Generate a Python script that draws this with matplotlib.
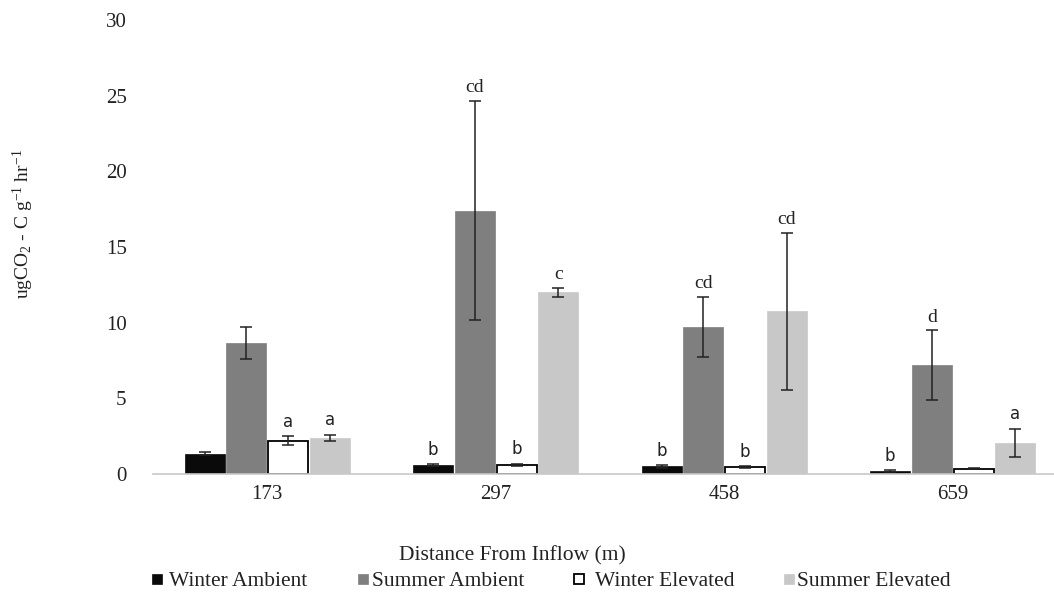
import matplotlib
matplotlib.use("Agg")
from matplotlib import pyplot as plt
from matplotlib.lines import Line2D
import numpy as np

plt.rcParams['font.family'] = ['Liberation Serif', 'DejaVu Serif']
plt.rcParams['mathtext.fontset'] = 'custom'
plt.rcParams['mathtext.rm'] = 'Liberation Serif'
plt.rcParams['mathtext.it'] = 'Liberation Serif:italic'

# data
distances = ["173", "297", "458", "659"]
series = ["Winter Ambient", "Summer Ambient", "Winter Elevated", "Summer Elevated"]
winter_ambient = [1.35, 0.6, 0.5, 0.2]
summer_ambient = [8.65, 17.4, 9.7, 7.2]
winter_elevated = [2.2, 0.6, 0.45, 0.35]
summer_elevated = [2.4, 12.0, 10.75, 2.05]
err_wa = [0.1, 0.05, 0.1, 0.05]
err_sa = [1.05, 7.25, 2.0, 2.3]
err_we = [0.3, 0.08, 0.08, 0.05]
err_se = [0.2, 0.3, 5.2, 0.95]
letters_wa = ["", "b", "b", "b"]
letters_sa = ["", "cd", "cd", "d"]
letters_we = ["a", "b", "b", ""]
letters_se = ["a", "c", "cd", "a"]

values = [winter_ambient, summer_ambient, winter_elevated, summer_elevated]
errors = [err_wa, err_sa, err_we, err_se]
letters = [letters_wa, letters_sa, letters_we, letters_se]
facecolors = ["#0a0a0a", "#7f7f7f", "#ffffff", "#c8c8c8"]
edgecolors = ["#0a0a0a", "#7f7f7f", "#000000", "#c8c8c8"]
txtcol = "#222222"

fig = plt.figure(figsize=(10.54, 5.95), dpi=100)
ax = fig.add_axes([153/1054, 1 - 474/595, 1 - 153/1054, (474 - 20)/595])

x = np.arange(len(distances))
w = 0.175
step = 0.183
for i in range(4):
    pos = x + (i - 1.5) * step
    ax.bar(pos, values[i], width=w, color=facecolors[i], edgecolor=edgecolors[i],
           linewidth=1.3 if i == 2 else 0.5, zorder=2)
    ax.errorbar(pos, values[i], yerr=errors[i], fmt="none", ecolor="#222222",
                elinewidth=1.1, capsize=4, capthick=1.1, zorder=3)
    for j in range(len(distances)):
        lab = letters[i][j]
        if lab == "":
            continue
        top = values[i][j] + errors[i][j]
        if lab in ("cd", "c", "d"):
            ax.text(pos[j], top + 0.3, lab, ha="center", va="bottom",
                    fontsize=14, color=txtcol)
        else:
            ax.text(pos[j], top + 0.35, lab, ha="center", va="bottom",
                    fontsize=12, family=["DejaVu Sans"], color=txtcol)

ax.set_xlim(-0.5, -0.5 + (1054 - 153) / 228.5)
ax.set_ylim(0, 30)
ax.set_yticks(range(0, 31, 5))
ax.set_xticks(x)
ax.set_xticklabels(distances)
ax.tick_params(axis="both", length=0, labelsize=15, colors=txtcol)
ax.tick_params(axis="x", pad=8)
ax.tick_params(axis="y", pad=19)
for s in ["top", "right", "left"]:
    ax.spines[s].set_visible(False)
ax.spines["bottom"].set_color("#c8c8c8")
ax.spines["bottom"].set_linewidth(1.2)

ax.set_ylabel(r"ugCO$_\mathregular{2}$ - C g$^\mathregular{-1}$ hr$^\mathregular{-1}$",
              fontsize=14, color=txtcol)
ax.yaxis.set_label_coords(-0.13, 0.55)
fig.text(512/1054, 1 - 556/595, "Distance From Inflow (m)", ha="center", va="center",
         fontsize=15.5, color=txtcol)

# legend entries laid out as in the original (uneven spacing)
leg_marker_x = [157, 363, 579, 789]
leg_text_x = [169, 372, 595, 797]
leg_y = 1 - 582/595
for i in range(4):
    fig.add_artist(Line2D([leg_marker_x[i]/1054], [leg_y + 3/595], marker="s",
                          linestyle="none", markersize=7.2,
                          markerfacecolor=facecolors[i], markeredgecolor=edgecolors[i],
                          markeredgewidth=1.3 if i == 2 else 0.5,
                          transform=fig.transFigure))
    fig.text(leg_text_x[i]/1054, leg_y, series[i], ha="left", va="center",
             fontsize=15.5, color=txtcol)

fig.savefig("out.png", dpi=100)
